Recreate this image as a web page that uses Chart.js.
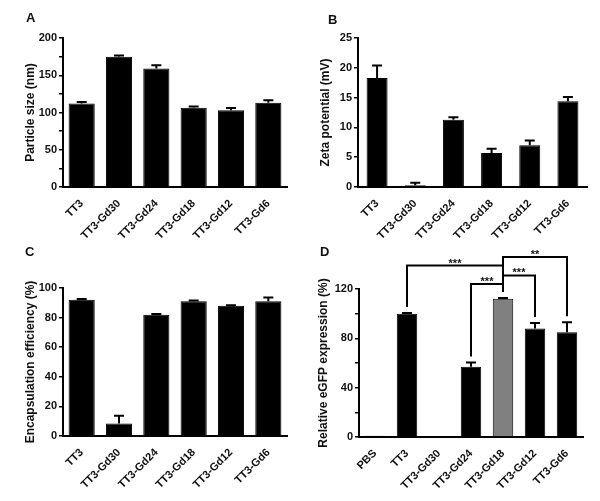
<!DOCTYPE html>
<html>
<head>
<meta charset="utf-8">
<script src="https://cdn.jsdelivr.net/npm/chart.js@4.4.0/dist/chart.umd.min.js"></script>
<style>
  body { margin: 0; background: #fff; }
  #wrap { position: relative; width: 600px; height: 501px; }
  canvas { position: absolute; }
  .tag { position: absolute; font: bold 13px Arial, "Liberation Sans", sans-serif; color: #111; line-height: 13px; }
</style>
</head>
<body>
<div id="wrap">
  <canvas id="chartA" width="300" height="250" style="left:0;top:0"></canvas>
  <canvas id="chartB" width="300" height="250" style="left:300px;top:0"></canvas>
  <canvas id="chartC" width="300" height="251" style="left:0;top:250px"></canvas>
  <canvas id="chartD" width="300" height="251" style="left:300px;top:250px"></canvas>
  <div class="tag" style="left:26px;top:11px">A</div>
  <div class="tag" style="left:328px;top:13px">B</div>
  <div class="tag" style="left:25px;top:245px">C</div>
  <div class="tag" style="left:320px;top:245px">D</div>
</div>
<script>
// data
const tt3Labels = ['TT3', 'TT3-Gd30', 'TT3-Gd24', 'TT3-Gd18', 'TT3-Gd12', 'TT3-Gd6']
const sizeMean = [112, 175, 159, 106.5, 103, 113]
const sizeErr = [2, 1.5, 4.5, 1.5, 3, 3.5]
const zetaMean = [18.3, 0.3, 11.3, 5.7, 7.0, 14.4]
const zetaErr = [2.1, 0.4, 0.4, 0.7, 0.8, 0.7]
const eeMean = [92, 8.5, 82, 91, 88, 91]
const eeErr = [0.5, 5.2, 0.4, 0.5, 0.4, 2.5]
const gfpLabels = ['PBS', 'TT3', 'TT3-Gd30', 'TT3-Gd24', 'TT3-Gd18', 'TT3-Gd12', 'TT3-Gd6']
const gfpMean = [1, 100, 0.8, 57, 112, 88, 85]
const gfpErr = [0, 0.5, 0, 3.5, 0.7, 4.5, 8]
const gfpColors = ['#000', '#000', '#000', '#000', '#808080', '#000', '#000']
// significance: [from, to, bracket level, stars]
const gfpSig = [[1, 4, 139, '***'], [3, 4, 124, '***'], [4, 5, 131, '***'], [4, 6, 146, '**']]

const FONT = 'Arial, "Liberation Sans", sans-serif'
const INK = '#111'

const errorBars = {
  id: 'errorBars',
  afterDatasetsDraw(chart, args, opts) {
    const ctx = chart.ctx
    const y = chart.scales.y
    const vals = chart.data.datasets[0].data
    ctx.save()
    ctx.strokeStyle = '#000'
    ctx.lineWidth = 2
    chart.getDatasetMeta(0).data.forEach((bar, i) => {
      const err = opts.errors[i]
      if (!err) return
      const yBar = y.getPixelForValue(vals[i])
      const yTop = y.getPixelForValue(vals[i] + err)
      ctx.beginPath()
      ctx.moveTo(bar.x, yBar)
      ctx.lineTo(bar.x, yTop)
      ctx.moveTo(bar.x - 5, yTop)
      ctx.lineTo(bar.x + 5, yTop)
      ctx.stroke()
    })
    ctx.restore()
  }
}

const brackets = {
  id: 'brackets',
  afterDraw(chart, args, opts) {
    if (!opts.items) return
    const ctx = chart.ctx
    const y = chart.scales.y
    const bars = chart.getDatasetMeta(0).data
    const vals = chart.data.datasets[0].data
    const endY = i => y.getPixelForValue(vals[i] + opts.errors[i]) - 6
    ctx.save()
    ctx.strokeStyle = '#000'
    ctx.lineWidth = 2
    ctx.fillStyle = INK
    ctx.font = 'bold 11px ' + FONT
    ctx.textAlign = 'center'
    ctx.textBaseline = 'alphabetic'
    opts.items.forEach(([a, b, level, stars]) => {
      const ly = y.getPixelForValue(level)
      const xa = bars[a].x, xb = bars[b].x
      ctx.beginPath()
      ctx.moveTo(xa, endY(a))
      ctx.lineTo(xa, ly)
      ctx.lineTo(xb, ly)
      ctx.lineTo(xb, endY(b))
      ctx.stroke()
      ctx.fillText(stars, (xa + xb) / 2, ly + 1)
    })
    ctx.restore()
  }
}

function makePanel(id, labels, values, errors, colors, yMax, minor, major, title, box, barPct, sig) {
  const canvas = document.getElementById(id)
  const H = canvas.height
  return new Chart(canvas, {
    type: 'bar',
    data: {
      labels: labels,
      datasets: [{
        data: values,
        backgroundColor: colors,
        borderColor: '#000',
        borderWidth: 1,
        barPercentage: barPct,
        categoryPercentage: 1
      }]
    },
    options: {
      responsive: false,
      animation: false,
      layout: { padding: { left: box.pad, top: box.top, right: canvas.width - box.right, bottom: 0 } },
      plugins: {
        legend: { display: false },
        tooltip: { enabled: false },
        errorBars: { errors: errors },
        brackets: { items: sig, errors: errors }
      },
      scales: {
        x: {
          afterFit: s => { s.height = H - box.bottom },
          grid: { display: false },
          border: { display: true, color: '#000', width: 2 },
          ticks: {
            color: INK, font: { family: FONT, size: 11, weight: 'bold' },
            minRotation: 45, maxRotation: 45, autoSkip: false, padding: 2
          }
        },
        y: {
          min: 0,
          max: yMax,
          afterFit: s => { s.width = box.left - box.pad },
          grid: { drawOnChartArea: false, drawTicks: true, tickLength: 4, color: '#000', lineWidth: 1.5 },
          border: { display: true, color: '#000', width: 2 },
          ticks: {
            stepSize: minor,
            padding: 2,
            color: INK,
            font: { family: FONT, size: 11, weight: 'bold' },
            callback: v => Math.abs(v % major) < 1e-6 ? v : ''
          },
          title: {
            display: true, text: title, color: INK,
            font: { family: FONT, size: 12, weight: 'bold' }
          }
        }
      }
    },
    plugins: [errorBars, brackets]
  })
}

const black6 = tt3Labels.map(() => '#000')

makePanel('chartA', tt3Labels, sizeMean, sizeErr, black6, 200, 25, 50, 'Particle size (nm)',
  { pad: 19, left: 63, top: 38, right: 287, bottom: 187 }, 0.7, null)
makePanel('chartB', tt3Labels, zetaMean, zetaErr, black6, 25, 2.5, 5, 'Zeta potential (mV)',
  { pad: 14, left: 58, top: 38, right: 287, bottom: 187 }, 0.55, null)
makePanel('chartC', tt3Labels, eeMean, eeErr, black6, 100, 10, 20, 'Encapsulation efficiency (%)',
  { pad: 19, left: 63, top: 38, right: 287, bottom: 186 }, 0.7, null)
makePanel('chartD', gfpLabels, gfpMean, gfpErr, gfpColors, 120, 20, 40, 'Relative eGFP expression (%)',
  { pad: 12, left: 59, top: 39, right: 283, bottom: 187 }, 0.64, gfpSig)
</script>
</body>
</html>
